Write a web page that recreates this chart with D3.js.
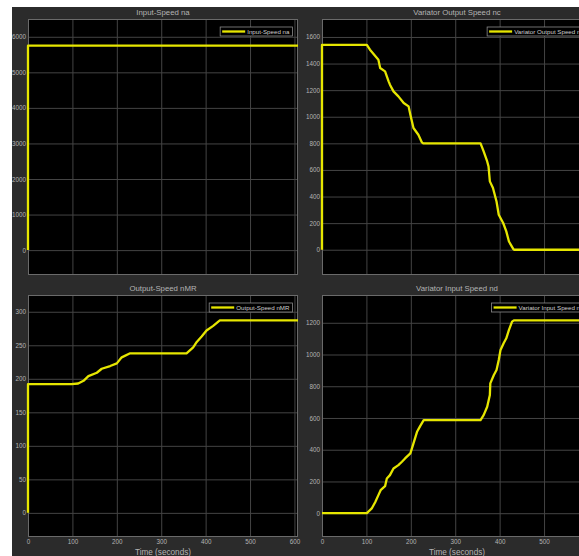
<!DOCTYPE html>
<html>
<head>
<meta charset="utf-8">
<script src="https://cdn.jsdelivr.net/npm/d3@7"></script>
<style>
  html, body { margin: 0; padding: 0; background: #ffffff; }
  svg { display: block; }
  text { font-family: "Liberation Sans", Arial, sans-serif; }
</style>
</head>
<body>
<svg id="chart" width="579" height="556"></svg>
<script>
// ---- data ----
const xTicks = [0, 100, 200, 300, 400, 500, 600];

const timeNa = [0, 0, 608];
const na     = [0, 5750, 5750];
const naTicks = [0, 1000, 2000, 3000, 4000, 5000, 6000];

const timeNc = [0, 0, 101, 108, 127, 131, 142, 150, 153, 161, 172, 184, 195, 199, 206, 217, 225, 228,
                357, 364, 372, 375, 378, 385, 393, 398, 408, 415, 421, 431, 433, 608];
const nc     = [0, 1540, 1540, 1504, 1429, 1366, 1341, 1266, 1241, 1191, 1153, 1103, 1078, 1015, 915, 865, 807, 800,
                800, 739, 664, 626, 514, 464, 363, 263, 201, 138, 62, 5, 0, 0];
const ncTicks = [0, 200, 400, 600, 800, 1000, 1200, 1400, 1600];

const timeNmr = [0, 0, 98, 113, 125, 136, 155, 166, 185, 200, 211, 230,
                 357, 372, 380, 391, 402, 417, 432, 608];
const nmr     = [0, 192, 192, 193, 197, 204, 209, 215, 219, 223, 232, 238,
                 238, 247, 255, 263, 272, 279, 287, 287];
const nmrTicks = [0, 50, 100, 150, 200, 250, 300];

const timeNd = [0, 101, 112, 120, 127, 132, 142, 146, 153, 161, 172, 180, 187, 199, 206, 214, 221, 229,
                357, 364, 372, 378, 379, 387, 393, 398, 402, 409, 415, 421, 428, 432, 608];
const nd     = [0, 0, 30, 71, 114, 145, 170, 219, 240, 282, 303, 324, 345, 377, 440, 513, 549, 587,
                587, 618, 671, 745, 818, 871, 902, 965, 1029, 1071, 1102, 1155, 1207, 1215, 1215];
const ndTicks = [0, 200, 400, 600, 800, 1000, 1200];

const titles = ["Input-Speed na", "Variator Output Speed nc", "Output-Speed nMR", "Variator Input Speed nd"];
const xLabel = "Time (seconds)";

// ---- layout ----
const svg = d3.select("#chart");
const BG = "#2b2b2b", GRID = "#444444", FRAME = "#6a6a6a", TXT = "#b4b4b4", LINE = "#e6e600";

svg.append("rect").attr("x", 12).attr("y", 7).attr("width", 579 - 12).attr("height", 556 - 7).attr("fill", BG);

const panels = [
  { x0: 28,  x1: 298, y0: 19,  y1: 275, yDom: [-700, 6500], ticks: naTicks, t: timeNa, v: na, title: titles[0], bottom: false },
  { x0: 322, x1: 592, y0: 19,  y1: 275, yDom: [-190, 1735], ticks: ncTicks, t: timeNc, v: nc, title: titles[1], bottom: false },
  { x0: 28,  x1: 298, y0: 295, y1: 537, yDom: [-36, 325],   ticks: nmrTicks, t: timeNmr, v: nmr, title: titles[2], bottom: true },
  { x0: 322, x1: 592, y0: 295, y1: 537, yDom: [-150, 1375], ticks: ndTicks, t: timeNd, v: nd, title: titles[3], bottom: true }
];

panels.forEach(p => {
  const x = d3.scaleLinear().domain([0, 608]).range([p.x0, p.x1]);
  const y = d3.scaleLinear().domain(p.yDom).range([p.y1, p.y0]);
  const g = svg.append("g");

  g.append("rect").attr("x", p.x0).attr("y", p.y0).attr("width", p.x1 - p.x0).attr("height", p.y1 - p.y0)
    .attr("fill", "#000");

  const gx = g.append("g").attr("transform", `translate(0,${p.y1})`)
    .call(d3.axisBottom(x).tickValues(xTicks).tickSize(-(p.y1 - p.y0)).tickFormat(p.bottom ? d3.format("d") : ""));
  const gy = g.append("g").attr("transform", `translate(${p.x0},0)`)
    .call(d3.axisLeft(y).tickValues(p.ticks).tickSize(-(p.x1 - p.x0)).tickFormat(d3.format("d")));
  [gx, gy].forEach(a => {
    a.select(".domain").remove();
    a.selectAll(".tick line").attr("stroke", GRID).attr("stroke-width", 1);
    a.selectAll(".tick text").attr("fill", TXT).attr("font-size", 6.3).attr("font-family", "Liberation Sans, Arial, sans-serif");
  });
  gy.selectAll(".tick text").attr("x", -2);
  gx.selectAll(".tick text").attr("y", 3);

  g.append("rect").attr("x", p.x0 + 0.5).attr("y", p.y0 + 0.5).attr("width", p.x1 - p.x0 - 1).attr("height", p.y1 - p.y0 - 1)
    .attr("fill", "none").attr("stroke", FRAME).attr("stroke-width", 1);

  const pts = p.t.map((t, i) => [t, p.v[i]]);
  g.append("path").datum(pts)
    .attr("fill", "none").attr("stroke", LINE).attr("stroke-width", 2.3).attr("stroke-linejoin", "round")
    .attr("d", d3.line().x(d => x(d[0])).y(d => y(d[1])));

  g.append("text").attr("x", (p.x0 + p.x1) / 2).attr("y", p.y0 - 4).attr("text-anchor", "middle")
    .attr("fill", TXT).attr("font-size", 7.8).text(p.title);

  if (p.bottom) {
    g.append("text").attr("x", (p.x0 + p.x1) / 2).attr("y", 555).attr("text-anchor", "middle")
      .attr("fill", TXT).attr("font-size", 8.2).text(xLabel);
  }

  const lg = g.append("g");
  const txt = lg.append("text").attr("font-size", 6.2).attr("fill", "#cfcfcf").text(p.title);
  const tw = txt.node().getComputedTextLength();
  const right = p.x1 - 5.5;
  const lineLen = 23;
  const w = 2 + lineLen + 2 + tw + 3;
  const left = right - w;
  const top = p.y0 + 8, h = 9;
  lg.insert("rect", "text").attr("x", left).attr("y", top).attr("width", w).attr("height", h)
    .attr("fill", "#000").attr("stroke", "#8a8a8a").attr("stroke-width", 0.8);
  lg.append("line").attr("x1", left + 2).attr("x2", left + 2 + lineLen).attr("y1", top + h / 2).attr("y2", top + h / 2)
    .attr("stroke", LINE).attr("stroke-width", 2.3);
  txt.attr("x", left + 4 + lineLen).attr("y", top + h / 2 + 2.2);
});
</script>
</body>
</html>
